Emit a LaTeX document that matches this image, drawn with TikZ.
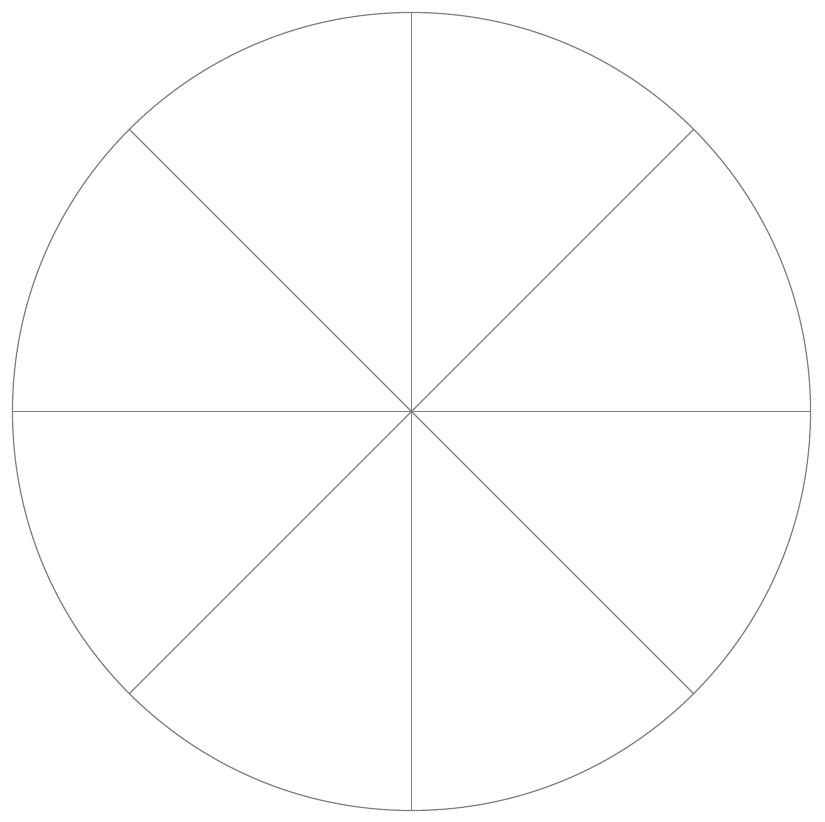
\documentclass[tikz,border=0pt]{standalone}
\usepackage{tikz}
\usetikzlibrary{calc}

\begin{document}
\begin{tikzpicture}[x=0.01cm,y=0.01cm]
    % riquadro
    \useasboundingbox (0,0) rectangle (825,822);

    % centro
    \coordinate (O) at (411.5,410.5);

    % cerchio
    \draw[gray,line width=0.35pt] (O) circle (399);

    % raggi
    \foreach \ang in {0,45,...,315} {
        \coordinate (R\ang) at ($(O)+(\ang:399)$);
        \draw[gray,line width=0.35pt] (O) -- (R\ang);
    }
\end{tikzpicture}
\end{document}
